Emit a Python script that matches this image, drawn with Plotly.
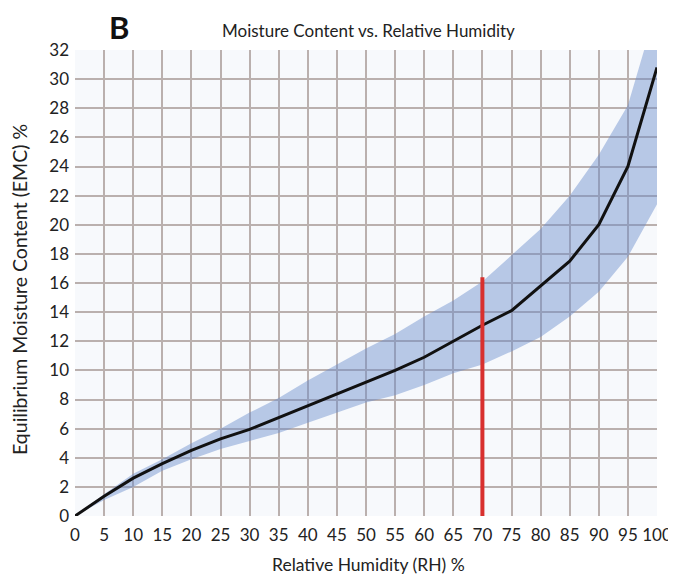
import plotly.graph_objects as go

rh = [0, 5, 10, 15, 20, 25, 30, 35, 40, 45, 50, 55, 60, 65, 70, 75, 80, 85, 90, 95, 100]
emc = [0, 1.35, 2.6, 3.6, 4.5, 5.3, 5.95, 6.75, 7.6, 8.4, 9.2, 10.0, 10.9, 12.0, 13.1, 14.1, 15.8, 17.5, 20.0, 24.0, 30.8]
band_upper = [0, 1.5, 2.9, 3.9, 5.0, 6.0, 7.1, 8.1, 9.3, 10.4, 11.5, 12.5, 13.7, 14.8, 16.1, 17.9, 19.7, 22.0, 24.8, 28.2, 35.0]
band_lower = [0, 1.1, 2.0, 3.1, 3.9, 4.6, 5.15, 5.7, 6.4, 7.1, 7.8, 8.3, 9.0, 9.8, 10.4, 11.3, 12.3, 13.7, 15.4, 17.8, 21.4]
marker_rh = [70, 70]
marker_emc = [0, 16.4]

x_ticks = list(range(0, 101, 5))
y_ticks = list(range(0, 33, 2))

FONT = "Lato, 'Open Sans', sans-serif"
GRID = "#bab0ae"
TXT = "#222222"

# page body has an 8px margin, so the figure is drawn 8px in from the window corner
OFF = 8
W, H = 676 - OFF, 574 - OFF
ML, MT = 75 - OFF, 50 - OFF
PW, PH = 582, 466
MR, MB = W - ML - PW, H - MT - PH


def px_x(p):
    return (p - OFF - ML) / PW


def px_y(p):
    return (MT + PH - (p - OFF)) / PH


fig = go.Figure()
fig.add_trace(go.Scatter(x=rh, y=band_lower, mode="lines", line=dict(width=0),
                         showlegend=False, hoverinfo="skip"))
fig.add_trace(go.Scatter(x=rh, y=band_upper, mode="lines", line=dict(width=0),
                         fill="tonexty", fillcolor="rgba(105,140,205,0.45)",
                         showlegend=False, hoverinfo="skip"))
fig.add_trace(go.Scatter(x=rh, y=emc, mode="lines", line=dict(color="#111111", width=3),
                         showlegend=False))
fig.add_trace(go.Scatter(x=marker_rh, y=marker_emc, mode="lines",
                         line=dict(color="#d8302e", width=4), showlegend=False))

fig.update_layout(
    width=W, height=H,
    margin=dict(l=ML, r=MR, t=MT, b=MB),
    paper_bgcolor="white",
    plot_bgcolor="#f7f9fc",
    font=dict(family=FONT, color=TXT, size=16),
    annotations=[
        dict(text="<b>B</b>", x=px_x(119), y=px_y(27), xref="paper", yref="paper",
             xanchor="center", yanchor="middle", showarrow=False,
             font=dict(size=31, family=FONT, color="#111")),
        dict(text="Moisture Content vs. Relative Humidity", x=px_x(368), y=px_y(30),
             xref="paper", yref="paper", xanchor="center", yanchor="middle",
             showarrow=False, font=dict(size=17, family=FONT, color=TXT)),
        dict(text="Relative Humidity (RH) %", x=px_x(368), y=px_y(564),
             xref="paper", yref="paper", xanchor="center", yanchor="middle",
             showarrow=False, font=dict(size=17.5, family=FONT, color=TXT)),
        dict(text="Equilibrium Moisture Content (EMC) %", x=px_x(19), y=px_y(290),
             xref="paper", yref="paper", xanchor="center", yanchor="middle",
             textangle=-90, showarrow=False, font=dict(size=19.5, family=FONT, color=TXT)),
    ],
)

fig.update_xaxes(range=[0, 100], tickvals=x_ticks, ticktext=[str(v) for v in x_ticks],
                 showgrid=True, gridcolor=GRID, gridwidth=1.5, zeroline=False,
                 showline=False, ticks="", ticklabelstandoff=7, automargin=False,
                 tickfont=dict(size=17, family=FONT, color=TXT))
fig.update_yaxes(range=[0, 32], tickvals=y_ticks, ticktext=[str(v) for v in y_ticks],
                 showgrid=True, gridcolor=GRID, gridwidth=1.5, zeroline=False,
                 showline=False, ticks="", ticklabelstandoff=5, automargin=False,
                 tickfont=dict(size=17, family=FONT, color=TXT))

fig.write_html("out.html")
